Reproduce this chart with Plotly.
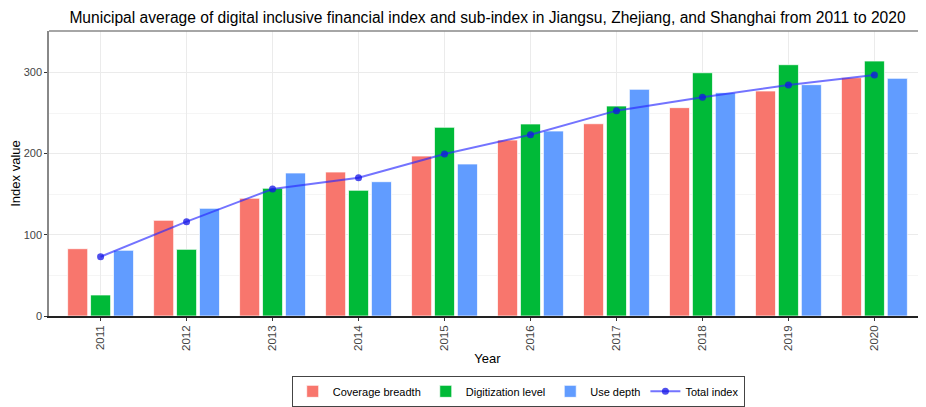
import plotly.graph_objects as go

years = ["2011", "2012", "2013", "2014", "2015", "2016", "2017", "2018", "2019", "2020"]
coverage_breadth = [82.9, 117.8, 145.0, 177.3, 197.0, 216.7, 236.8, 256.6, 277.1, 293.5]
digitization_level = [25.9, 82.1, 157.3, 154.8, 232.4, 236.5, 258.6, 299.6, 309.5, 314.0]
use_depth = [80.9, 132.6, 176.1, 165.4, 187.2, 227.8, 279.2, 275.0, 284.9, 292.7]
total_index = [73.0, 116.2, 156.4, 170.3, 199.5, 223.3, 252.9, 269.3, 284.5, 296.8]

fig = go.Figure()
bar_line = dict(color="rgba(255,255,255,0.9)", width=0.8)
fig.add_trace(go.Bar(x=years, y=coverage_breadth, name="Coverage breadth",
                     marker=dict(color="#F8766D", line=bar_line)))
fig.add_trace(go.Bar(x=years, y=digitization_level, name="Digitization level",
                     marker=dict(color="#00BA38", line=bar_line)))
fig.add_trace(go.Bar(x=years, y=use_depth, name="Use depth",
                     marker=dict(color="#619CFF", line=bar_line)))
fig.add_trace(go.Scatter(x=years, y=total_index, name="Total index", mode="lines+markers",
                         line=dict(color="rgba(40,40,255,0.65)", width=2),
                         marker=dict(color="rgba(20,20,230,0.75)", size=7)))

fig.update_layout(
    width=918, height=399,
    margin=dict(l=41, r=0, t=23, b=91, autoexpand=False),
    paper_bgcolor="white", plot_bgcolor="white",
    font=dict(family="Liberation Sans, Arial, sans-serif", color="#222"),
    title=dict(text="Municipal average of digital inclusive financial index and sub-index in Jiangsu, Zhejiang, and Shanghai from 2011 to 2020",
               xref="paper", x=0.5, xanchor="center", yref="container", y=0.99, yanchor="top",
               font=dict(size=15.6, color="black")),
    barmode="group", bargap=0.2, bargroupgap=0.125,
    showlegend=True,
    legend=dict(orientation="h", x=0.535, xanchor="center", y=-0.21, yanchor="top",
                bordercolor="#444", borderwidth=1, font=dict(size=11, color="black"),
                itemwidth=30, tracegroupgap=0),
    xaxis=dict(type="category", range=[-0.6, 9.6], tickangle=-90, automargin=False,
               showgrid=True, gridcolor="#ebebeb", gridwidth=1,
               showline=True, linecolor="#222", linewidth=1.5,
               ticks="outside", ticklen=3, tickcolor="#333",
               tickfont=dict(size=11.5, color="#444"),
               title=dict(text="Year", font=dict(size=13, color="black"), standoff=4)),
    yaxis=dict(range=[0, 351], tickvals=[0, 100, 200, 300], automargin=False,
               showgrid=True, gridcolor="#ebebeb", gridwidth=1,
               minor=dict(dtick=50, showgrid=True, gridcolor="#f5f5f5", gridwidth=1),
               showline=True, linecolor="#888", linewidth=1.5,
               ticks="outside", ticklen=3, tickcolor="#333",
               tickfont=dict(size=11, color="#444"), zeroline=False,
               title=dict(text="Index value", font=dict(size=13, color="black"), standoff=6)),
    shapes=[dict(type="line", xref="paper", yref="paper", x0=0, x1=1, y0=1, y1=1,
                 line=dict(color="#888", width=1.5))],
)

fig.write_html("out.html")
